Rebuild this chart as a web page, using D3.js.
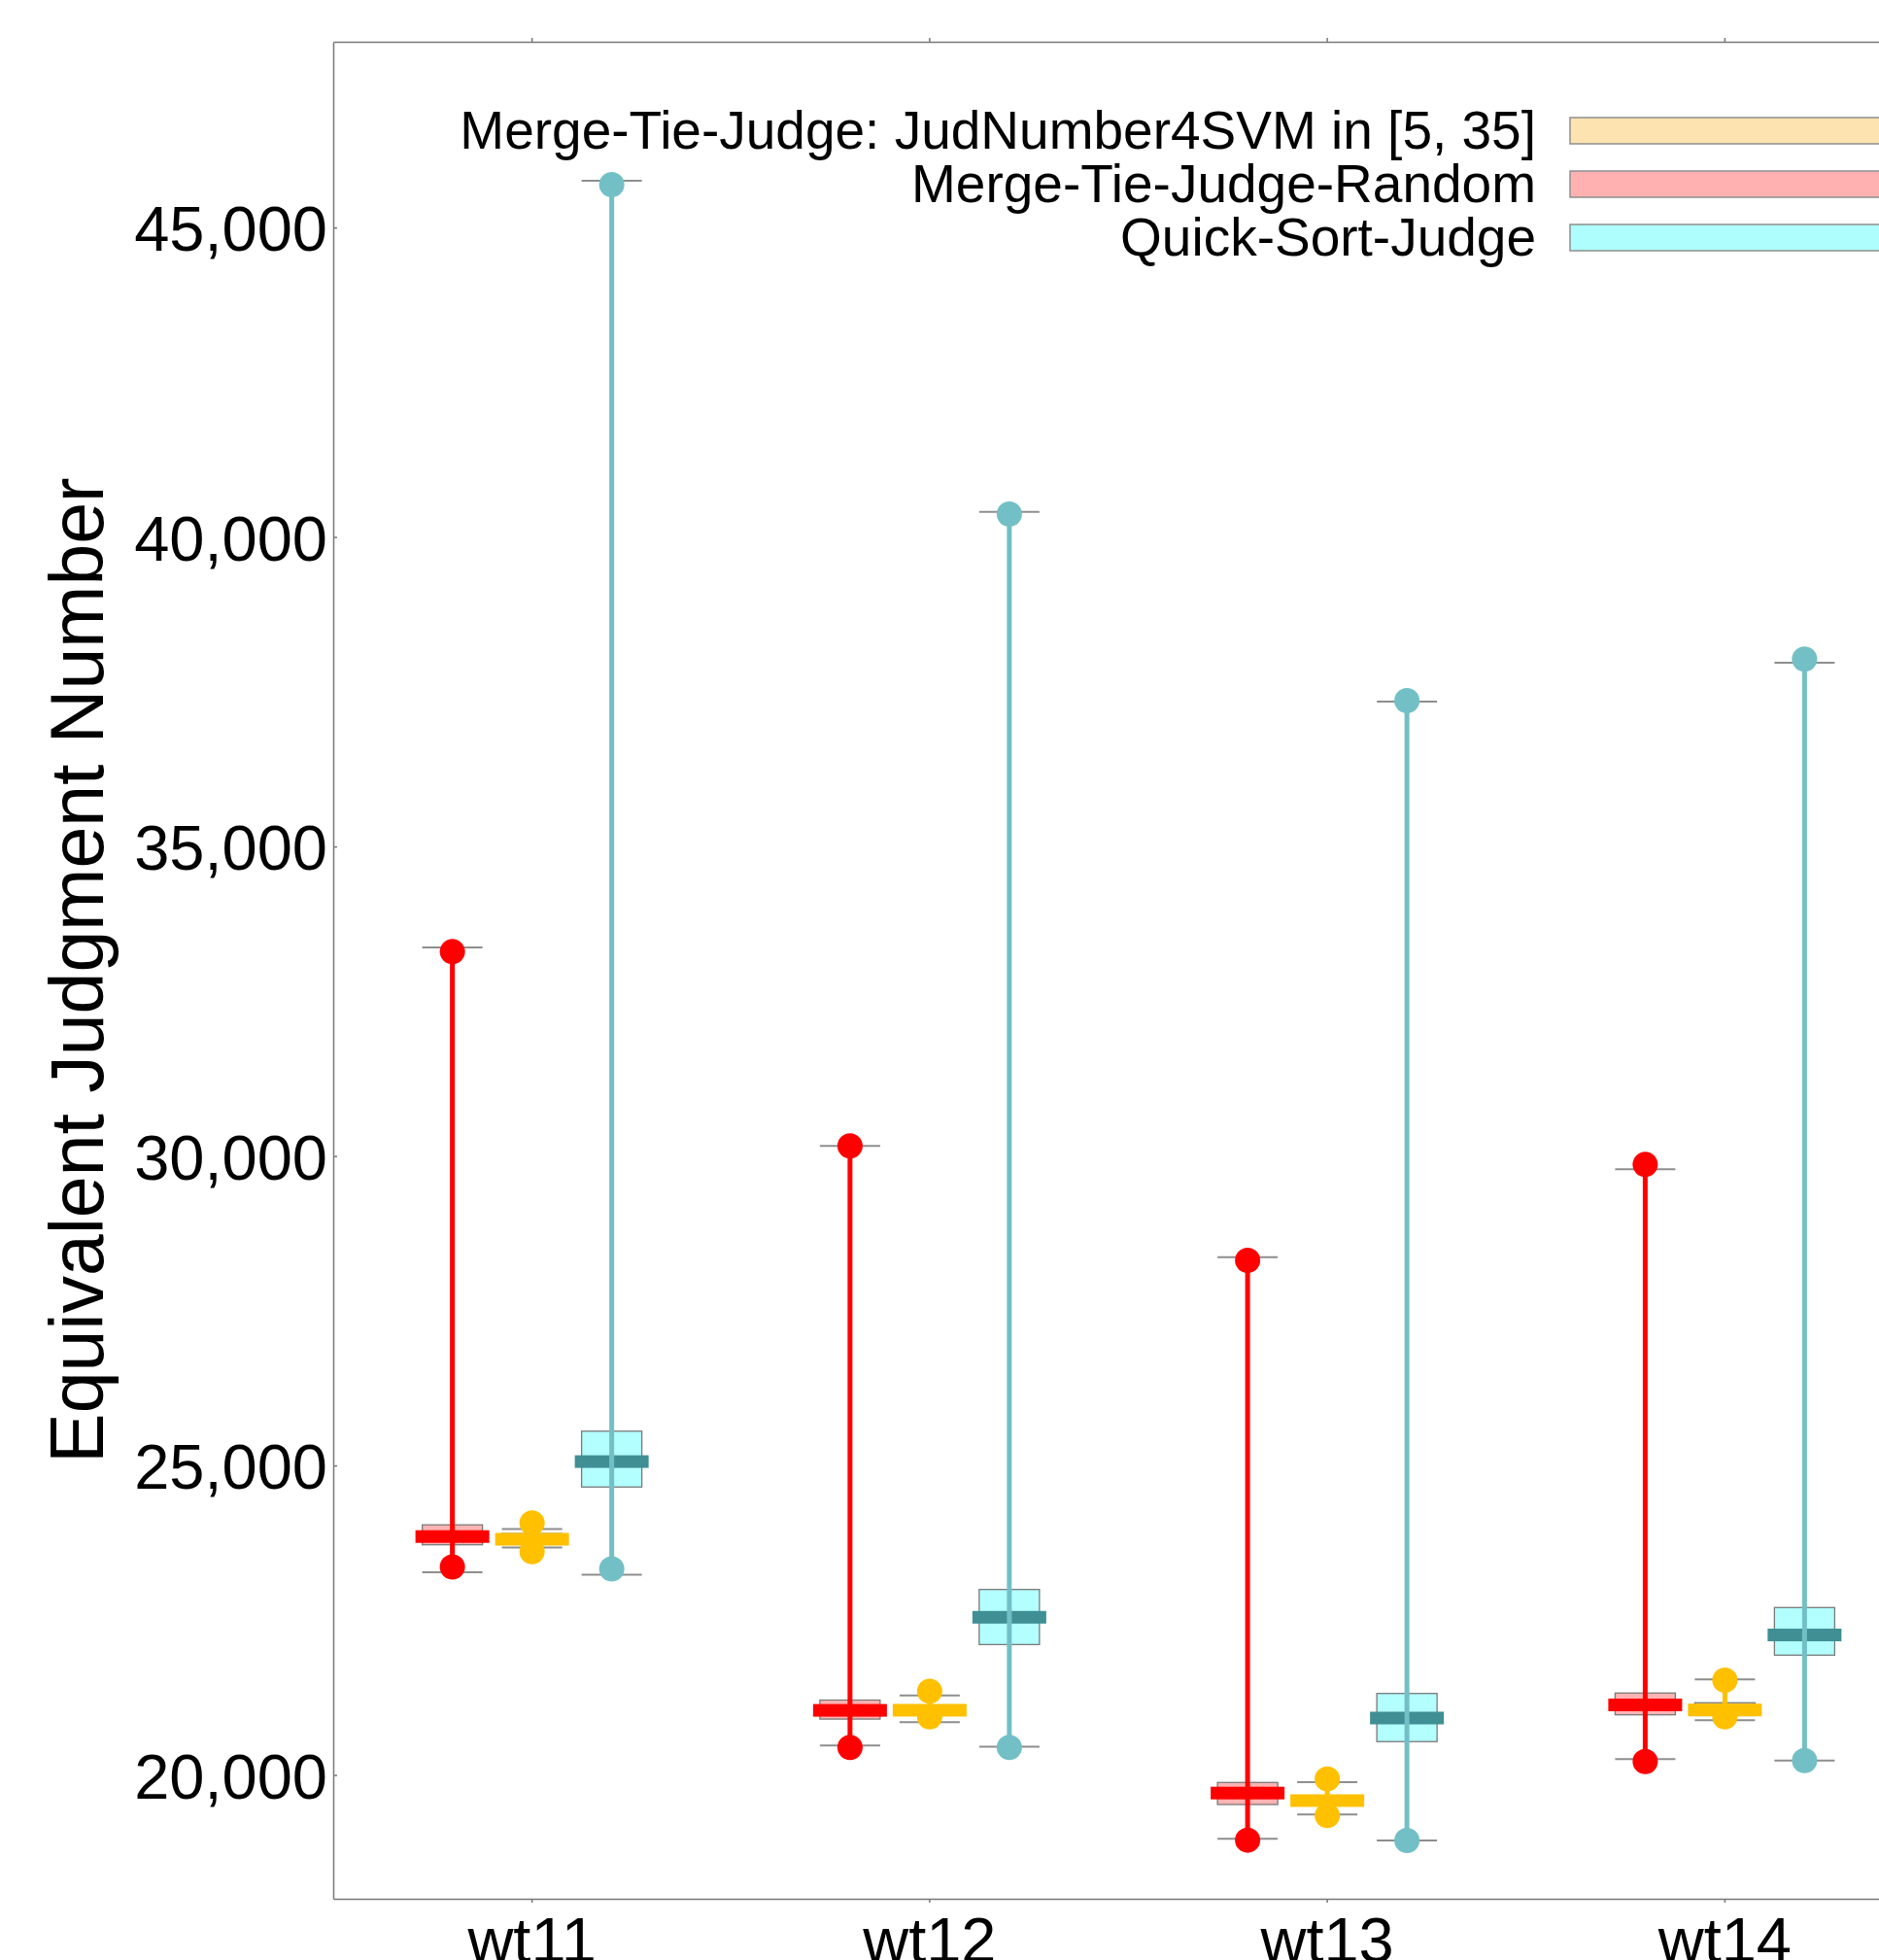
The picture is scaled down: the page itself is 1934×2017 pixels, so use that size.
<!DOCTYPE html>
<html>
<head>
<meta charset="utf-8">
<script src="https://cdn.jsdelivr.net/npm/d3@7"></script>
<style>
  html, body { margin: 0; padding: 0; background: #fff; overflow: hidden; }
  svg { display: block; font-family: "Liberation Sans", Arial, sans-serif; }
</style>
</head>
<body>
<svg id="chart" width="1934" height="2017"></svg>
<script>
// ---- data ----
const categories = ["wt11", "wt12", "wt13", "wt14"];
const seriesKeys = ["random", "svm", "quick"];
const legendLabels = ["Merge-Tie-Judge: JudNumber4SVM in [5, 35]", "Merge-Tie-Judge-Random", "Quick-Sort-Judge"];
const legendKeys = ["svm", "random", "quick"];
const yTicks = [20000, 25000, 30000, 35000, 40000, 45000];

// Merge-Tie-Judge-Random
const randomCapHi  = [33369, 30162, 28366, 29785];
const randomPtHi   = [33301, 30162, 28314, 29863];
const randomQ3     = [24041, 21210, 19879, 21324];
const randomMedian = [23852, 21044, 19708, 21132];
const randomQ1     = [23719, 20903, 19523, 20972];
const randomCapLo  = [23275, 20476, 18969, 20256];
const randomPtLo   = [23361, 20445, 18947, 20218];

// Merge-Tie-Judge: JudNumber4SVM in [5, 35]
const svmCapHi  = [23972, 21286, 19884, 21543];
const svmPtHi   = [24071, 21353, 19936, 21532];
const svmQ3     = [23900, 21110, 19640, 21167];
const svmMedian = [23808, 21046, 19586, 21050];
const svmQ1     = [23740, 20990, 19530, 20960];
const svmCapLo  = [23677, 20852, 19361, 20884];
const svmPtLo   = [23608, 20939, 19345, 20940];

// Quick-Sort-Judge
const quickCapHi  = [45755, 40407, 37341, 37969];
const quickPtHi   = [45692, 40371, 37357, 38027];
const quickQ3     = [25554, 22997, 21317, 22705];
const quickMedian = [25063, 22548, 20920, 22262];
const quickQ1     = [24652, 22107, 20539, 21936];
const quickCapLo  = [23237, 20457, 18942, 20234];
const quickPtLo   = [23330, 20445, 18942, 20234];

// ---- build table ----
const raw = {
  random: [randomCapHi, randomPtHi, randomQ3, randomMedian, randomQ1, randomCapLo, randomPtLo],
  svm:    [svmCapHi, svmPtHi, svmQ3, svmMedian, svmQ1, svmCapLo, svmPtLo],
  quick:  [quickCapHi, quickPtHi, quickQ3, quickMedian, quickQ1, quickCapLo, quickPtLo]
};
const rows = [];
seriesKeys.forEach(k => {
  const [capHi, ptHi, q3, med, q1, capLo, ptLo] = raw[k];
  categories.forEach((c, i) => {
    rows.push({ key: k, cat: c, capHi: capHi[i], ptHi: ptHi[i], q3: q3[i], median: med[i], q1: q1[i], capLo: capLo[i], ptLo: ptLo[i] });
  });
});

const style = {
  random: { box: "#ffb3b3", median: "#ff0000", line: "#ff0000", point: "#ff0000", legend: "#ffb1b1" },
  svm:    { box: "#fde3b0", median: "#ffc000", line: "#ffc000", point: "#ffc000", legend: "#fde3b0" },
  quick:  { box: "#b3ffff", median: "#3f8f94", line: "#72c0c6", point: "#72c0c6", legend: "#aefefe" }
};

// ---- layout ----
const plotLeft = 343, plotTop = 43, plotBottom = 1954, plotRight = 1980;
const svg = d3.select("#chart");

const x0 = d3.scaleBand().domain(categories).range([plotLeft, plotRight]).padding(0);
const x1 = d3.scaleBand().domain(seriesKeys).range([-123, 123]).padding(0);
const y = d3.scaleLinear().domain([18000, 48000]).range([plotBottom, plotTop]);

const cx = d => x0(d.cat) + x0.bandwidth() / 2 + x1(d.key) + x1.bandwidth() / 2;

const boxW = 62, medW = 76, medH = 13, capW = 62, r = 13;
const axisColor = "#777";

// axes
const yAxis = svg.append("g").attr("transform", `translate(${plotLeft},0)`)
  .call(d3.axisLeft(y).tickValues(yTicks).tickFormat(d3.format(",")).tickSizeInner(-4).tickSizeOuter(0).tickPadding(6));
yAxis.select(".domain").attr("stroke", axisColor).attr("stroke-width", 1.5);
yAxis.selectAll(".tick line").attr("stroke", axisColor).attr("stroke-width", 1.5);
yAxis.selectAll(".tick text").attr("font-size", 65).attr("fill", "#000")
  .attr("font-family", "Liberation Sans, Arial, sans-serif").attr("dy", "0.36em");

const xAxis = svg.append("g").attr("transform", `translate(0,${plotBottom})`)
  .call(d3.axisBottom(x0).tickSizeInner(4).tickSizeOuter(0).tickPadding(0));
xAxis.select(".domain").attr("stroke", axisColor).attr("stroke-width", 1.5);
xAxis.selectAll(".tick line").attr("stroke", axisColor).attr("stroke-width", 1.5);
xAxis.selectAll(".tick text").attr("font-size", 65).attr("fill", "#000")
  .attr("font-family", "Liberation Sans, Arial, sans-serif").attr("y", 65).attr("dy", 0);

const xTop = svg.append("g").attr("transform", `translate(0,${plotTop})`)
  .call(d3.axisTop(x0).tickSizeInner(4).tickSizeOuter(0).tickFormat(""));
xTop.select(".domain").attr("stroke", axisColor).attr("stroke-width", 1.5);
xTop.selectAll(".tick line").attr("stroke", axisColor).attr("stroke-width", 1.5);

// y title
svg.append("text")
  .attr("transform", `translate(106,${(plotTop + plotBottom) / 2}) rotate(-90)`)
  .attr("text-anchor", "middle")
  .attr("font-size", 77)
  .attr("fill", "#000")
  .text("Equivalent Judgment Number");

// ---- marks ----
const g = svg.append("g");

// boxes
g.selectAll("rect.box").data(rows).join("rect").attr("class", "box")
  .attr("x", d => cx(d) - boxW / 2)
  .attr("y", d => y(d.q3))
  .attr("width", boxW)
  .attr("height", d => y(d.q1) - y(d.q3))
  .attr("fill", d => style[d.key].box)
  .attr("stroke", "#7a7a7a").attr("stroke-width", 1.3);

// caps
g.selectAll("line.capHi").data(rows).join("line").attr("class", "capHi")
  .attr("x1", d => cx(d) - capW / 2).attr("x2", d => cx(d) + capW / 2)
  .attr("y1", d => y(d.capHi)).attr("y2", d => y(d.capHi))
  .attr("stroke", "#8e8e8e").attr("stroke-width", 2);
g.selectAll("line.capLo").data(rows).join("line").attr("class", "capLo")
  .attr("x1", d => cx(d) - capW / 2).attr("x2", d => cx(d) + capW / 2)
  .attr("y1", d => y(d.capLo)).attr("y2", d => y(d.capLo))
  .attr("stroke", "#8e8e8e").attr("stroke-width", 2);

// median bars
g.selectAll("rect.median").data(rows).join("rect").attr("class", "median")
  .attr("x", d => cx(d) - medW / 2)
  .attr("y", d => y(d.median) - medH / 2)
  .attr("width", medW).attr("height", medH)
  .attr("fill", d => style[d.key].median);

// range lines
g.selectAll("line.range").data(rows).join("line").attr("class", "range")
  .attr("x1", d => cx(d)).attr("x2", d => cx(d))
  .attr("y1", d => y(d.ptHi)).attr("y2", d => y(d.ptLo))
  .attr("stroke", d => style[d.key].line).attr("stroke-width", 5);

// points
g.selectAll("circle.hi").data(rows).join("circle").attr("class", "hi")
  .attr("cx", d => cx(d)).attr("cy", d => y(d.ptHi)).attr("r", r)
  .attr("fill", d => style[d.key].point);
g.selectAll("circle.lo").data(rows).join("circle").attr("class", "lo")
  .attr("cx", d => cx(d)).attr("cy", d => y(d.ptLo)).attr("r", r)
  .attr("fill", d => style[d.key].point);

// ---- legend ----
const legY = d3.scaleBand().domain(legendKeys).range([107, 272]).padding(0);
const lg = svg.append("g");
lg.selectAll("rect").data(legendKeys).join("rect")
  .attr("x", 1616).attr("y", k => legY(k) + legY.bandwidth() / 2 - 13.5)
  .attr("width", 400).attr("height", 27)
  .attr("fill", k => style[k].legend)
  .attr("stroke", "#8e8e8e").attr("stroke-width", 1.5);
lg.selectAll("text").data(legendKeys).join("text")
  .attr("x", 1581).attr("y", k => legY(k) + legY.bandwidth() / 2 + 18.5)
  .attr("text-anchor", "end").attr("font-size", 55).attr("fill", "#000")
  .text(k => legendLabels[legendKeys.indexOf(k)]);
</script>
</body>
</html>
